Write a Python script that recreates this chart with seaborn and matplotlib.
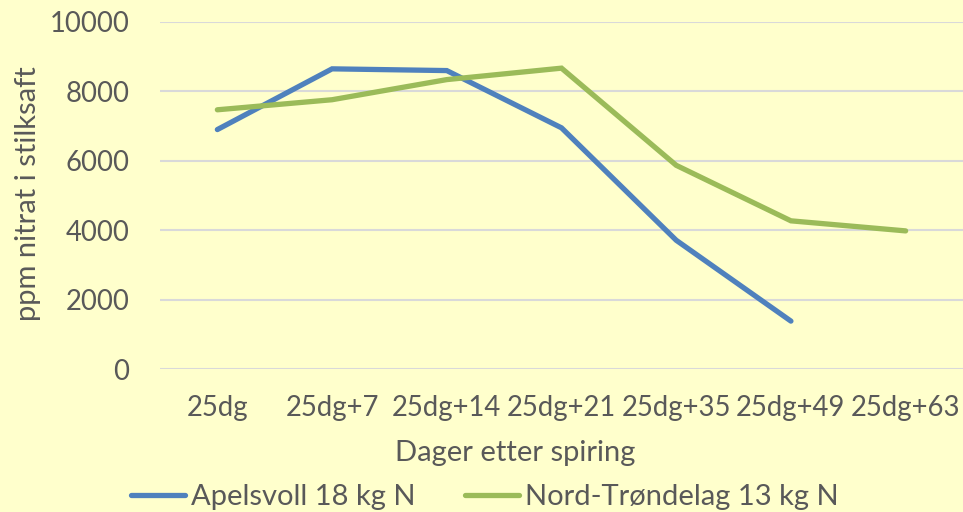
import matplotlib
matplotlib.use("Agg")
import matplotlib.pyplot as plt
import seaborn as sns
import pandas as pd
import numpy as np
from matplotlib.lines import Line2D

categories = ["25dg", "25dg+7", "25dg+14", "25dg+21", "25dg+35", "25dg+49", "25dg+63"]
apelsvoll = [6900, 8650, 8600, 6950, 3710, 1380, np.nan]
nord_trondelag = [7470, 7760, 8340, 8670, 5870, 4270, 3980]
series_names = ["Apelsvoll 18 kg N", "Nord-Trøndelag 13 kg N"]
y_ticks = [0, 2000, 4000, 6000, 8000, 10000]

df = pd.DataFrame({
    "Dag": categories * 2,
    "ppm": apelsvoll + nord_trondelag,
    "Serie": [series_names[0]] * len(categories) + [series_names[1]] * len(categories),
})

sns.set_theme(style="white")
plt.rcParams["font.family"] = ["Lato", "DejaVu Sans"]

BG = "#FFFFCC"
TXT = "#595959"
COLORS = ["#4F81BD", "#9BBB59"]

fig = plt.figure(figsize=(9.63, 5.12), dpi=100, facecolor=BG)
ax = fig.add_axes([160 / 963, (512 - 369) / 512, 803 / 963, 347 / 512])
ax.set_facecolor(BG)

sns.lineplot(data=df, x="Dag", y="ppm", hue="Serie", sort=False,
             palette=COLORS, linewidth=3.8, ax=ax, legend=False)
for ln in ax.get_lines():
    ln.set_solid_capstyle("round")
    ln.set_solid_joinstyle("miter")

ax.set_xlim(-0.5, len(categories) - 0.5)
ax.set_ylim(0, 10000)
ax.set_yticks(y_ticks)
ax.set_yticklabels([str(v) for v in y_ticks])
ax.set_xticks(range(len(categories)))
ax.set_xticklabels(categories)
ax.grid(axis="y", color="#D9D9D9", linewidth=1.5)
ax.grid(axis="x", visible=False)
ax.set_axisbelow(True)
for s in ax.spines.values():
    s.set_visible(False)
ax.tick_params(axis="y", length=0, pad=22, labelsize=19.8, labelcolor=TXT)
ax.tick_params(axis="x", length=0, pad=19, labelsize=19.8, labelcolor=TXT)

ax.set_xlabel("")
ax.set_ylabel("")
fig.text(515 / 963, 1 - 453 / 512, "Dager etter spiring", ha="center", va="center",
         fontsize=21, color=TXT)
fig.text(28 / 963, 1 - 194 / 512, "ppm nitrat i stilksaft", ha="center", va="center",
         rotation=90, fontsize=21, color=TXT)

handles = [Line2D([0], [0], color=c, lw=3.8, solid_capstyle="round") for c in COLORS]
leg = fig.legend(handles, series_names, loc="center", ncol=2,
                 bbox_to_anchor=(485 / 963, 1 - 497 / 512), frameon=False,
                 fontsize=21, handlelength=1.85, handletextpad=0.2,
                 columnspacing=1.7, labelcolor=TXT)

fig.savefig("out.png", dpi=100, facecolor=BG)
